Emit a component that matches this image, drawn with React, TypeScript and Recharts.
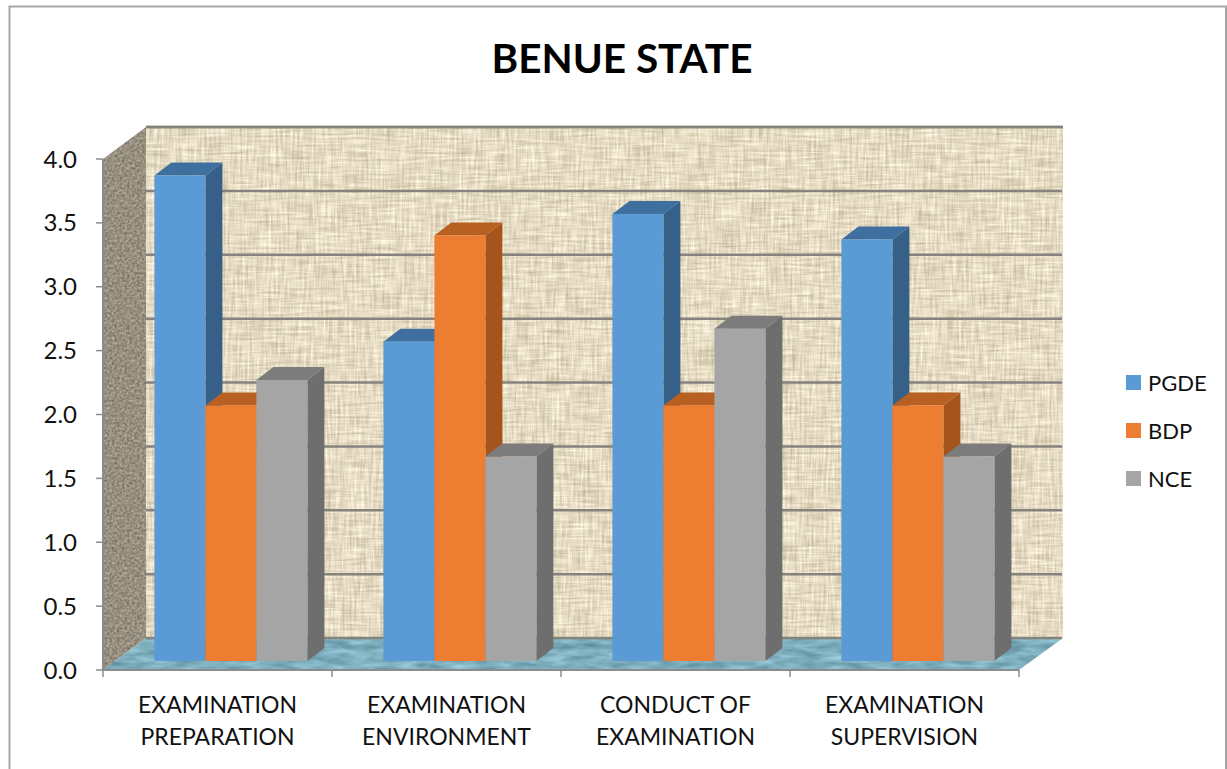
import { Bar, BarChart, CartesianGrid, Legend, XAxis, YAxis } from 'recharts';

const categories = ['EXAMINATION PREPARATION', 'EXAMINATION ENVIRONMENT', 'CONDUCT OF EXAMINATION', 'EXAMINATION SUPERVISION'];
const pgde = [3.8, 2.5, 3.5, 3.3];
const bdp = [2.0, 3.33, 2.0, 2.0];
const nce = [2.2, 1.6, 2.6, 1.6];
const yTicks = [0, 0.5, 1, 1.5, 2, 2.5, 3, 3.5, 4];

const data = categories.map((name, i) => ({ name, PGDE: pgde[i], BDP: bdp[i], NCE: nce[i] }));

const FONT = 'Lato, sans-serif';
// the 3D box the bars stand in
const LEFT = 103;
const RIGHT = 1019;
const TOP = 159;
const BOTTOM = 670;
const DEPTH_X = 43;
const DEPTH_Y = 32;
const BAND = (RIGHT - LEFT) / categories.length;
const AXIS_GRAY = '#8c8c8c';

function Box3D(props: any) {
  const { x, y, width, height, fill, topFill, sideFill } = props;
  const fx = x + 13.4;
  const fy = y - 9;
  const dx = 17;
  const dy = 13;
  const r = fx + width;
  const b = fy + height;
  return (
    <g>
      <polygon points={`${r},${fy} ${r + dx},${fy - dy} ${r + dx},${b - dy} ${r},${b}`} fill={sideFill} />
      <polygon points={`${fx},${fy} ${fx + dx},${fy - dy} ${r + dx},${fy - dy} ${r},${fy}`} fill={topFill} />
      <rect x={fx} y={fy} width={width} height={height} fill={fill} />
    </g>
  );
}

// ticks sit on the band edges, labels on the band centres
function CategoryTick({ x, payload, index }: any) {
  const words = payload.value.split(' ');
  const second = words.pop();
  const axisY = BOTTOM;
  return (
    <g>
      <line x1={x - BAND / 2} x2={x - BAND / 2} y1={axisY} y2={axisY + 7} stroke={AXIS_GRAY} strokeWidth={1.5} />
      {index === categories.length - 1 && (
        <line x1={x + BAND / 2} x2={x + BAND / 2} y1={axisY} y2={axisY + 7} stroke={AXIS_GRAY} strokeWidth={1.5} />
      )}
      <text x={x} y={axisY} textAnchor="middle" fontFamily={FONT} fontSize={23} fill="#111">
        <tspan x={x} dy={43}>{words.join(' ')}</tspan>
        <tspan x={x} dy={32}>{second}</tspan>
      </text>
    </g>
  );
}

function BackGridLine({ x1, x2, y1, y2 }: any) {
  return <line x1={x1 + DEPTH_X} x2={x2 + DEPTH_X} y1={y1 - DEPTH_Y} y2={y2 - DEPTH_Y} stroke="#85837c" strokeWidth={2.5} />;
}

function LegendList({ payload }: any) {
  return (
    <div>
      {payload.map((p: any) => (
        <div key={p.value} style={{ display: 'flex', alignItems: 'center', height: 48, fontFamily: FONT, fontSize: 22, color: '#111' }}>
          <span style={{ width: 15, height: 15, background: p.color, marginRight: 7 }} />
          {p.value}
        </div>
      ))}
    </div>
  );
}

function Walls() {
  const bx = LEFT + DEPTH_X;
  const bt = TOP - DEPTH_Y;
  const bb = BOTTOM - DEPTH_Y;
  const br = RIGHT + DEPTH_X + 1;
  return (
    <svg width={1227} height={769} style={{ position: 'absolute', left: 0, top: 0 }}>
      <defs>
        <filter id="linen" x="0" y="0" width="1" height="1" colorInterpolationFilters="sRGB">
          <feTurbulence type="fractalNoise" baseFrequency="0.035 0.42" numOctaves="2" seed="4" result="h" />
          <feTurbulence type="fractalNoise" baseFrequency="0.42 0.035" numOctaves="2" seed="9" result="v" />
          <feComposite in="h" in2="v" operator="arithmetic" k2="0.5" k3="0.5" />
          <feColorMatrix type="matrix" values="0.5 0 0 0 0.65  0.5 0 0 0 0.61  0.55 0 0 0 0.49  0 0 0 0 1" />
          <feGaussianBlur stdDeviation="0.6" />
          <feComposite in2="SourceAlpha" operator="in" />
        </filter>
        <filter id="sideweave" x="0" y="0" width="1" height="1" colorInterpolationFilters="sRGB">
          <feTurbulence type="fractalNoise" baseFrequency="0.4 0.4" numOctaves="2" seed="2" />
          <feColorMatrix type="matrix" values="0.4 0 0 0 0.39  0.4 0 0 0 0.36  0.4 0 0 0 0.3  0 0 0 0 1" />
          <feGaussianBlur stdDeviation="0.7" />
          <feComposite in2="SourceAlpha" operator="in" />
        </filter>
        <filter id="water" x="0" y="0" width="1" height="1" colorInterpolationFilters="sRGB">
          <feTurbulence type="fractalNoise" baseFrequency="0.04 0.16" numOctaves="3" seed="7" />
          <feColorMatrix type="matrix" values="0.35 0 0 0 0.32  0.35 0 0 0 0.51  0.35 0 0 0 0.57  0 0 0 0 1" />
          <feComposite in2="SourceAlpha" operator="in" />
        </filter>
      </defs>
      <path d="M9.5 769 V6.5 H1226 V769" fill="none" stroke="#a6a6a6" strokeWidth={2} />
      <text x={622} y={73} textAnchor="middle" fontFamily={FONT} fontWeight={700} fontSize={40.5} fill="#000">BENUE STATE</text>
      <rect x={bx} y={bt} width={br - bx} height={bb - bt} fill="#000" filter="url(#linen)" />
      <polygon points={`${LEFT},${TOP} ${bx},${bt} ${bx},${bb} ${LEFT},${BOTTOM}`} fill="#000" filter="url(#sideweave)" />
      <polygon points={`${LEFT},${BOTTOM} ${bx},${bb} ${br},${bb} ${RIGHT},${BOTTOM}`} fill="#000" filter="url(#water)" />
      <line x1={bx} x2={br} y1={bt} y2={bt} stroke="#85837c" strokeWidth={2.5} />
    </svg>
  );
}

export default function App() {
  return (
    <div style={{ position: 'absolute', left: 0, top: 0, width: 1227, height: 769 }}>
      <Walls />
      <BarChart
        width={1227}
        height={769}
        data={data}
        barSize={51}
        barGap={0}
        margin={{ top: TOP, right: 108, bottom: 39, left: 43 }}
        style={{ position: 'absolute', left: 0, top: 0 }}
      >
        <CartesianGrid vertical={false} horizontal={(p: any) => <BackGridLine key={p.key} {...p} />} />
        <XAxis
          dataKey="name"
          height={60}
          interval={0}
          tick={<CategoryTick />}
          tickLine={false}
          axisLine={{ stroke: AXIS_GRAY, strokeWidth: 2 }}
        />
        <YAxis
          width={60}
          domain={[0, 4]}
          ticks={yTicks}
          tickFormatter={(v: number) => v.toFixed(1)}
          tick={{ fontFamily: FONT, fontSize: 24, fill: '#111' }}
          tickLine={{ stroke: AXIS_GRAY, strokeWidth: 1.5 }}
          tickSize={7}
          tickMargin={19}
          axisLine={{ stroke: AXIS_GRAY, strokeWidth: 2 }}
        />
        <Legend
          layout="vertical"
          align="right"
          verticalAlign="middle"
          width={100}
          itemSorter={null}
          content={<LegendList />}
          wrapperStyle={{ left: 1126, top: 358, width: 100 }}
        />
        <Bar dataKey="PGDE" fill="#5B9BD5" isAnimationActive={false} shape={<Box3D topFill="#3E6F9F" sideFill="#376089" />} />
        <Bar dataKey="BDP" fill="#ED7D31" isAnimationActive={false} shape={<Box3D topFill="#B85F22" sideFill="#A5541C" />} />
        <Bar dataKey="NCE" fill="#A5A5A5" isAnimationActive={false} shape={<Box3D topFill="#7C7C7C" sideFill="#6E6E6E" />} />
      </BarChart>
    </div>
  );
}
